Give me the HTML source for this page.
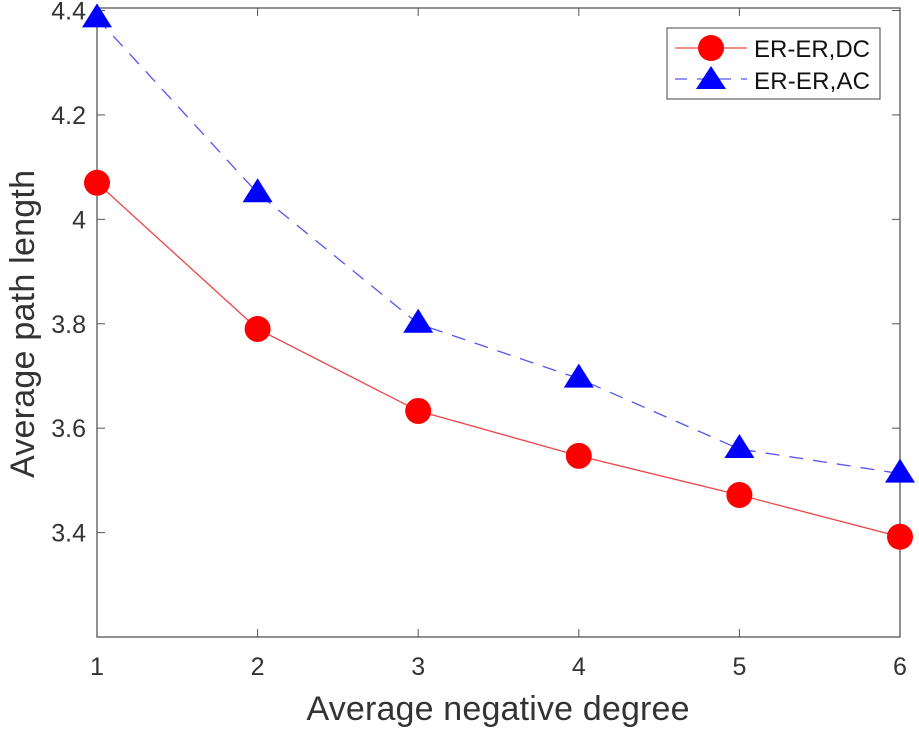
<!DOCTYPE html>
<html><head><meta charset="utf-8"><style>
body{margin:0;background:#fff}
svg text{font-family:"Liberation Sans",sans-serif;fill:#333}
</style></head><body>
<svg width="919" height="731">
<g id="axes"></g><g id="series"></g>
<g>
<rect x="667" y="28" width="213" height="71" fill="#fff" stroke="#444" stroke-width="1"/>
<line x1="675" y1="48" x2="747" y2="48" stroke="#ee4444" stroke-width="1.2"/>
<circle cx="711" cy="48" r="13" fill="#f00"/>
<text x="754" y="57" font-size="24" textLength="116" style="fill:#111">ER-ER,DC</text>
<line x1="675" y1="79" x2="747" y2="79" stroke="#5555ee" stroke-width="1.2" stroke-dasharray="12,10"/>
<polygon points="711,66 696,89 726,89" fill="#00f"/>
<text x="754" y="89" font-size="24" textLength="116" style="fill:#111">ER-ER,AC</text>
</g>
<text x="498" y="720" font-size="34" textLength="383" text-anchor="middle">Average negative degree</text>
<text transform="translate(34,324) rotate(-90)" font-size="34" textLength="308" text-anchor="middle">Average path length</text>
</svg>
<script>
const xs=[1,2,3,4,5,6];
const dc=[4.07,3.79,3.633,3.547,3.472,3.392];
const ac=[4.385,4.05,3.80,3.695,3.56,3.513];
const xTicks=["1","2","3","4","5","6"];
const yTicks=[3.4,3.6,3.8,4,4.2,4.4];
const X=v=>97+(v-1)*(900-97)/5;
const Y=v=>637-(v-3.2)*(637-10.5)/1.2;
const NS="http://www.w3.org/2000/svg";
function mk(t,a,p){const e=document.createElementNS(NS,t);for(const k in a)e.setAttribute(k,a[k]);p.appendChild(e);return e;}
const ax=document.getElementById('axes'),se=document.getElementById('series');
const frame=mk('rect',{x:97,y:8,width:803,height:629,fill:'none',stroke:'#555','stroke-width':1.3},ax);


xs.forEach((v,i)=>{
 mk('line',{x1:X(v),y1:637,x2:X(v),y2:629,stroke:'#555'},ax);
 mk('line',{x1:X(v),y1:8,x2:X(v),y2:16,stroke:'#555'},ax);
 const t=mk('text',{x:X(v),y:675,'font-size':25,'text-anchor':'middle'},ax);t.textContent=xTicks[i];
 
 
});
yTicks.forEach(v=>{
 mk('line',{x1:97,y1:Y(v),x2:105,y2:Y(v),stroke:'#555'},ax);
 mk('line',{x1:900,y1:Y(v),x2:892,y2:Y(v),stroke:'#555'},ax);
 const t=mk('text',{x:86,y:Y(v)+9,'font-size':25,'text-anchor':'end'},ax);t.textContent=(v===4?'4':v.toFixed(1));
 
 
});
const l1=mk('polyline',{points:xs.map((v,i)=>X(v)+','+Y(dc[i])).join(' '),fill:'none',stroke:'#ee4444','stroke-width':1.3},se);


const l2=mk('polyline',{points:xs.map((v,i)=>X(v)+','+Y(ac[i])).join(' '),fill:'none',stroke:'#5555ee','stroke-width':1.3,'stroke-dasharray':'14,10'},se);


xs.forEach((v,i)=>{
 const c=mk('circle',{cx:X(v),cy:Y(dc[i]),r:13,fill:'#f00'},se);
 
 
 const x=X(v),y=Y(ac[i]);
 const p=mk('polygon',{points:`${x},${y-15} ${x-15},${y+9} ${x+15},${y+9}`,fill:'#00f'},se);
 
 
});
</script>
</body></html>
